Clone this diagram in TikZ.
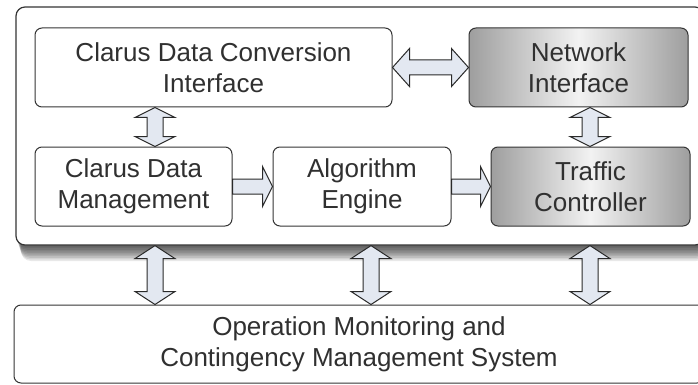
\documentclass[tikz,border=0pt]{standalone}
\usepackage{fontspec}
\setmainfont{Liberation Sans}
\usetikzlibrary{calc}
\definecolor{txt}{HTML}{303030}
\definecolor{edge}{HTML}{353535}
\definecolor{arrfill}{HTML}{E3E8F1}
\definecolor{arredge}{HTML}{2A2A2A}
\tikzset{
  boxtext/.style={font=\fontsize{26}{31}\selectfont, text=txt, align=center, inner sep=0pt},
  whitebox/.style={boxtext, draw=edge, line width=1pt, rounded corners=7pt, fill=white},
  graybox/.style={boxtext, draw=edge, line width=1pt, rounded corners=7pt,
     left color=black!38, right color=black!38, middle color=black!5},
  blockarr/.style={draw=arredge, line width=1pt, fill=arrfill, line join=miter},
}
% vertical double block arrow: x (canvas), top anchor, bottom anchor, head length
\newcommand\vdblarrow[4]{%
  \path[blockarr] let \p1=(#2), \p2=(#3) in
    (#1,\y1) -- (#1+20pt,\y1-#4) -- (#1+8pt,\y1-#4) -- (#1+8pt,\y2+#4) -- (#1+20pt,\y2+#4)
    -- (#1,\y2) -- (#1-20pt,\y2+#4) -- (#1-8pt,\y2+#4) -- (#1-8pt,\y1-#4) -- (#1-20pt,\y1-#4) -- cycle;}
% horizontal double block arrow: left anchor, right anchor, head length
\newcommand\hdblarrow[3]{%
  \path[blockarr] let \p1=(#1), \p2=(#2) in
    (\x1,\y1) -- (\x1+#3,\y1+19pt) -- (\x1+#3,\y1+7.5pt) -- (\x2-#3,\y1+7.5pt) -- (\x2-#3,\y1+19pt)
    -- (\x2,\y1) -- (\x2-#3,\y1-19pt) -- (\x2-#3,\y1-7.5pt) -- (\x1+#3,\y1-7.5pt) -- (\x1+#3,\y1-19pt) -- cycle;}
% horizontal single block arrow (to the right): left anchor, right anchor, head length
\newcommand\hsglarrow[3]{%
  \path[blockarr] let \p1=(#1), \p2=(#2) in
    (\x1,\y1+7.5pt) -- (\x2-#3,\y1+7.5pt) -- (\x2-#3,\y1+20pt) -- (\x2,\y1)
    -- (\x2-#3,\y1-20pt) -- (\x2-#3,\y1-7.5pt) -- (\x1,\y1-7.5pt) -- cycle;}
\begin{document}
\begin{tikzpicture}[x=1pt,y=-1pt]
  \useasboundingbox (0,0) rectangle (698,385);
  \fill[white] (0,0) rectangle (698,385);
  \clip (0,0) rectangle (698,385);
  % shadow of the outer container
  \foreach \d in {1,...,10}
    \fill[black, opacity=0.09, rounded corners=10pt] (16+\d*0.5,12) rectangle (706,245+\d*1.6);
  % outer container
  \node[draw=edge, line width=1.2pt, rounded corners=9pt, fill=white,
        minimum width=688pt, minimum height=238pt, inner sep=0pt] (outer) at (360,126) {};
  % inner boxes
  \node[whitebox, minimum width=357pt, minimum height=79pt] (conv) at (213.5,67.5)
     {Clarus Data Conversion\\Interface};
  \node[graybox, minimum width=219pt, minimum height=79pt] (ni) at (578.5,67.5)
     {Network\\Interface};
  \node[whitebox, minimum width=197pt, minimum height=79pt] (cdm) at (133.5,186.5)
     {Clarus Data\\Management};
  \node[whitebox, minimum width=178pt, minimum height=79pt] (ae) at (362,186.5)
     {Algorithm\\Engine};
  \node[graybox, minimum width=199pt, minimum height=79pt] (tc) at (590.5,186.5)
     {Traffic\\Controller};
  % bottom system
  \node[whitebox, minimum width=690pt, minimum height=78pt] (oms) at (359,344)
     {Operation Monitoring and\\Contingency Management System};
  % connectors
  \hdblarrow{conv.east}{ni.west}{17pt}
  \vdblarrow{155pt}{conv.south}{cdm.north}{10pt}
  \vdblarrow{590pt}{ni.south}{tc.north}{10pt}
  \hsglarrow{cdm.east}{ae.west}{10pt}
  \hsglarrow{ae.east}{tc.west}{10pt}
  \vdblarrow{155pt}{outer.south}{oms.north}{13pt}
  \vdblarrow{371pt}{outer.south}{oms.north}{13pt}
  \vdblarrow{590pt}{outer.south}{oms.north}{13pt}
\end{tikzpicture}
\end{document}
